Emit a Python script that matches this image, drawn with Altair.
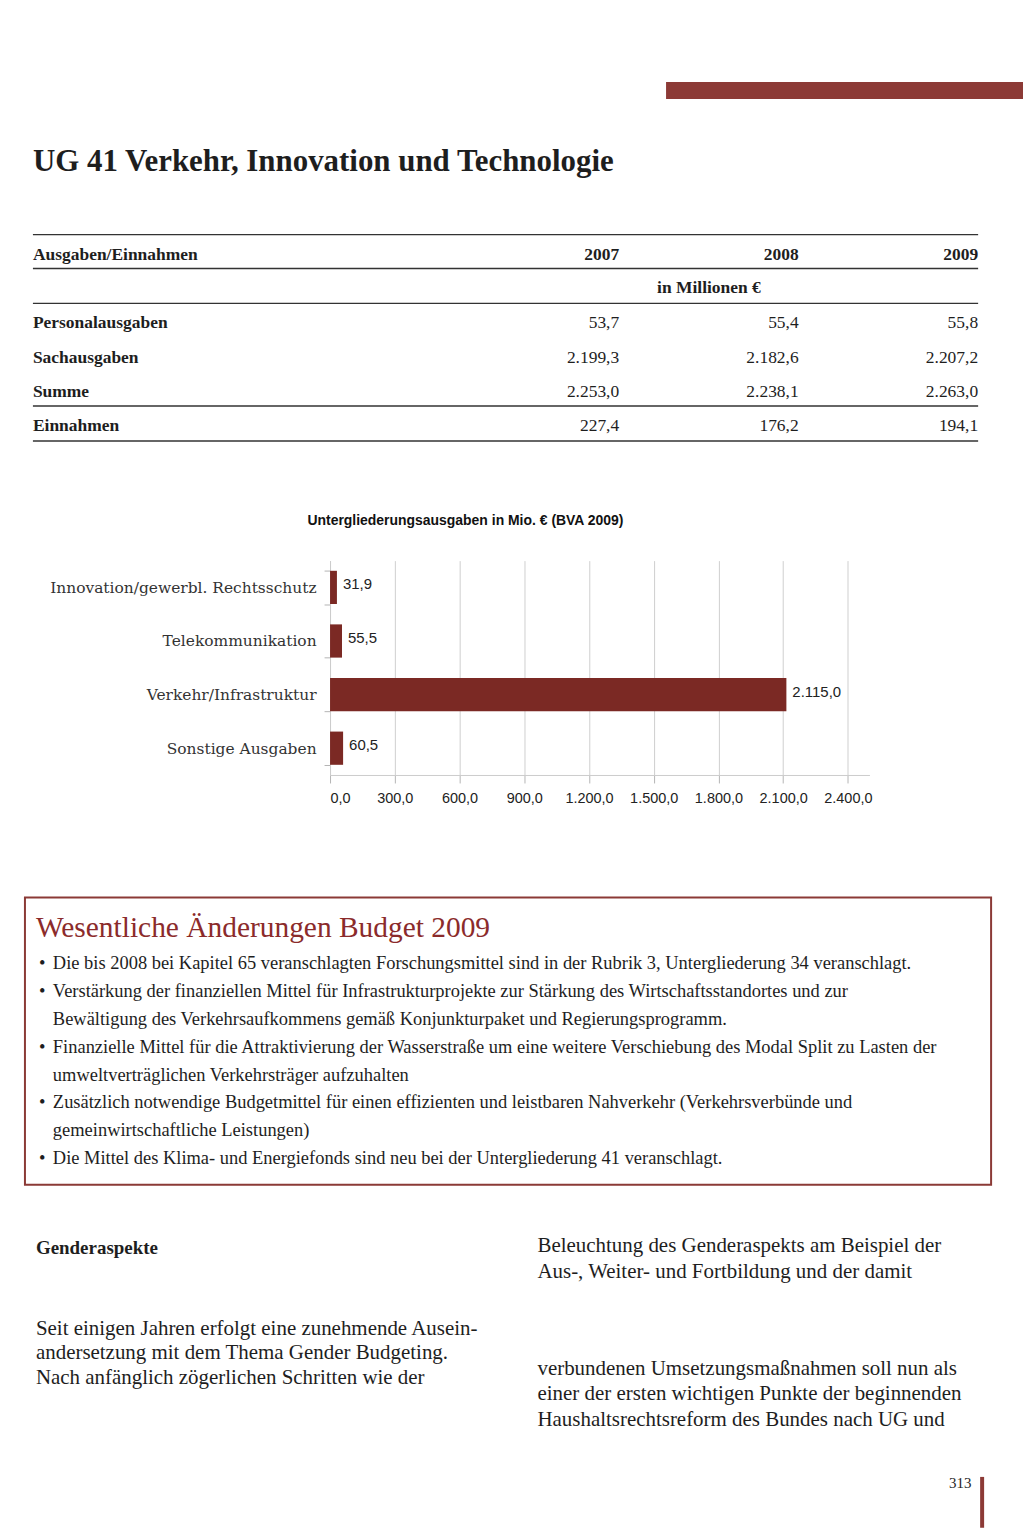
import altair as alt
import pandas as pd

# ---------------- data ----------------
page_title = "UG 41 Verkehr, Innovation und Technologie"
table_head = "Ausgaben/Einnahmen"
years = ["2007", "2008", "2009"]
unit_note = "in Millionen €"
table_rows = ["Personalausgaben", "Sachausgaben", "Summe", "Einnahmen"]
values_2007 = [53.7, 2199.3, 2253.0, 227.4]
values_2008 = [55.4, 2182.6, 2238.1, 176.2]
values_2009 = [55.8, 2207.2, 2263.0, 194.1]

chart_title = "Untergliederungsausgaben in Mio. € (BVA 2009)"
categories = ["Innovation/gewerbl. Rechtsschutz", "Telekommunikation",
              "Verkehr/Infrastruktur", "Sonstige Ausgaben"]
amounts = [31.9, 55.5, 2115.0, 60.5]
x_ticks = [0, 300, 600, 900, 1200, 1500, 1800, 2100, 2400]

box_title = "Wesentliche Änderungen Budget 2009"
box_lines = [
    "Die bis 2008 bei Kapitel 65 veranschlagten Forschungsmittel sind in der Rubrik 3, Untergliederung 34 veranschlagt.",
    "Verstärkung der finanziellen Mittel für Infrastrukturprojekte zur Stärkung des Wirtschaftsstandortes und zur",
    "Bewältigung des Verkehrsaufkommens gemäß Konjunkturpaket und Regierungsprogramm.",
    "Finanzielle Mittel für die Attraktivierung der Wasserstraße um eine weitere Verschiebung des Modal Split zu Lasten der",
    "umweltverträglichen Verkehrsträger aufzuhalten",
    "Zusätzlich notwendige Budgetmittel für einen effizienten und leistbaren Nahverkehr (Verkehrsverbünde und",
    "gemeinwirtschaftliche Leistungen)",
    "Die Mittel des Klima- und Energiefonds sind neu bei der Untergliederung 41 veranschlagt.",
]
box_bullet_flags = [1, 1, 0, 1, 0, 1, 0, 1]
section_title = "Genderaspekte"
left_col_lines = [
    "Seit einigen Jahren erfolgt eine zunehmende Ausein-",
    "andersetzung  mit dem Thema Gender Budgeting.",
    "Nach  anfänglich  zögerlichen  Schritten  wie  der",
]
right_col_lines_a = [
    "Beleuchtung  des  Genderaspekts  am  Beispiel  der",
    "Aus-, Weiter- und Fortbildung und der damit",
]
right_col_lines_b = [
    "verbundenen Umsetzungsmaßnahmen  soll nun als",
    "einer der ersten wichtigen Punkte  der beginnenden",
    "Haushaltsrechtsreform  des  Bundes  nach  UG  und",
]
page_number = "313"

# ---------------- styling ----------------
W = 1015
SERIF = "Liberation Serif"
LABEL_SERIF = "DejaVu Serif"
NARROW = "Liberation Sans Narrow, Arial Narrow, Liberation Sans, sans-serif"
MAROON = "#7b2924"
HEAD_RED = "#8c3a36"
TEXT = "#1e1e1e"
one = pd.DataFrame({"k": [0]})


def de_num(f):
    return (f"{f} >= 1000 ? replace(replace(format({f}, ',.1f'), '.', ','), ',', '.') "
            f": replace(format({f}, '.1f'), '.', ',')")


def text_at(txt, x, y, size, weight="normal", color=TEXT, font=SERIF,
            align="left", baseline="middle", line_height=None):
    kw = dict(text=txt, font=font, fontSize=size, fontWeight=weight, color=color,
              align=align, baseline=baseline)
    if line_height is not None:
        kw["lineBreak"] = "\n"
        kw["lineHeight"] = line_height
    return alt.Chart(one).mark_text(**kw).encode(x=alt.value(x), y=alt.value(y))


def rect_at(x, x2, y, y2, **kw):
    return alt.Chart(one).mark_rect(**kw).encode(
        x=alt.value(x), x2=alt.value(x2), y=alt.value(y), y2=alt.value(y2))


# ---------------- top panel: heading + table ----------------
TOP_H = 505
top_layers = [
    rect_at(657, W, 72, 89, color=HEAD_RED),
    text_at(page_title, 22, 161, 31, weight="bold", baseline="alphabetic"),
]
for yy in [225, 259, 294, 397, 432]:
    top_layers.append(alt.Chart(one).mark_rule(color="#333333", strokeWidth=1.4).encode(
        x=alt.value(22), x2=alt.value(970), y=alt.value(yy)))

tbl = pd.DataFrame({
    "row": table_rows * 3,
    "year": [y for y in years for _ in table_rows],
    "value": values_2007 + values_2008 + values_2009,
})
xs = alt.X("year:N", scale=alt.Scale(type="point", domain=years, range=[610, 970], padding=0), axis=None)
ys = alt.Y("row:N", scale=alt.Scale(type="point", domain=table_rows, range=[314, 417], padding=0), axis=None)

top_layers.append(text_at(table_head, 22, 245, 17.5, weight="bold"))
top_layers.append(alt.Chart(pd.DataFrame({"year": years})).mark_text(
    font=SERIF, fontSize=17.5, fontWeight="bold", color=TEXT, align="right", baseline="middle"
).encode(x=xs, y=alt.value(245), text="year:N"))
top_layers.append(text_at(unit_note, 700, 279, 17.5, weight="bold", align="center"))
top_layers.append(alt.Chart(pd.DataFrame({"row": table_rows})).mark_text(
    font=SERIF, fontSize=17.5, fontWeight="bold", color=TEXT, align="left", baseline="middle"
).encode(x=alt.value(22), y=ys, text="row:N"))
top_layers.append(alt.Chart(tbl).transform_calculate(lbl=de_num("datum.value")).mark_text(
    font=SERIF, fontSize=17.5, color=TEXT, align="right", baseline="middle"
).encode(x=xs, y=ys, text="lbl:N"))

top = alt.layer(*top_layers).properties(width=W, height=TOP_H)

# ---------------- bar chart ----------------
AXIS_EXT = 290
bar_df = pd.DataFrame({"category": categories, "amount": amounts})
base = alt.Chart(bar_df).encode(
    y=alt.Y("category:N", sort=categories,
            scale=alt.Scale(paddingInner=0.38, paddingOuter=0.19),
            axis=alt.Axis(title=None, labelFont=LABEL_SERIF, labelFontSize=15.5,
                          labelColor="#333333", labelPadding=8, tickBand="extent",
                          tickSize=6, tickColor="#b5b5b5", domainColor="#cccccc",
                          grid=False, labelLimit=400,
                          minExtent=AXIS_EXT, maxExtent=AXIS_EXT)),
    x=alt.X("amount:Q", scale=alt.Scale(domain=[0, 2500], nice=False),
            axis=alt.Axis(title=None, values=x_ticks, labelExpr=de_num("datum.value"),
                          labelFont=NARROW, labelFontSize=14.5, labelColor="#222222",
                          labelPadding=9, tickSize=8, tickColor="#b5b5b5",
                          domainColor="#cccccc", grid=True, gridColor="#cfcfcf")),
)
bars = base.mark_bar(color=MAROON)
bar_labels = base.transform_calculate(lbl=de_num("datum.amount")).mark_text(
    align="left", dx=6, dy=-3, font=NARROW, fontSize=15, color="#222222"
).encode(text="lbl:N")
bar_chart = alt.layer(bars, bar_labels).properties(
    width=541, height=215,
    title=alt.TitleParams(chart_title, font=NARROW, fontSize=14, fontWeight="bold",
                          color="#111111", anchor="middle", frame="bounds",
                          baseline="bottom", offset=12, dx=9),
)
spacer = alt.Chart(one).mark_point(opacity=0).encode(
    x=alt.value(0), y=alt.value(0)).properties(width=320 - AXIS_EXT, height=10)
bar_row = alt.hconcat(spacer, bar_chart, spacing=0)

# ---------------- bottom panel: box + text ----------------
BOT0 = 805
BOT_H = 1529 - BOT0


def by(page_y):
    return page_y - BOT0


BODY = 18.5
COL = 21
box_df = pd.DataFrame({"line": list(range(len(box_lines))), "txt": box_lines,
                       "bullet": box_bullet_flags})
line_y = alt.Y("line:Q", scale=alt.Scale(domain=[0, len(box_lines) - 1],
                                         range=[by(963), by(1158)]), axis=None)
bottom_layers = [
    rect_at(14, 983, by(897), by(1185), fillOpacity=0, stroke="#8b3a36", strokeWidth=2),
    text_at(box_title, 25, by(936), 29.5, color="#8b2b2b", baseline="alphabetic"),
    alt.Chart(box_df).transform_filter("datum.bullet == 1").mark_text(
        text="•", font=SERIF, fontSize=BODY, color=TEXT, align="left", baseline="middle"
    ).encode(x=alt.value(28), y=line_y),
    alt.Chart(box_df).mark_text(
        font=SERIF, fontSize=BODY, color=TEXT, align="left", baseline="middle"
    ).encode(x=alt.value(42), y=line_y, text="txt:N"),
    text_at(section_title, 25, by(1248), 19, weight="bold"),
    text_at("\n".join(left_col_lines), 25, by(1329) - 0.49 * COL, COL, baseline="top", line_height=24.5),
    text_at("\n".join(right_col_lines_a), 528, by(1246) - 0.49 * COL, COL, baseline="top", line_height=26),
    text_at("\n".join(right_col_lines_b), 528, by(1369) - 0.49 * COL, COL, baseline="top", line_height=25.5),
    text_at(page_number, 952, by(1484), 15, align="center"),
    rect_at(972, 976, by(1478), BOT_H, color=HEAD_RED),
]
bottom = alt.layer(*bottom_layers).properties(width=W, height=BOT_H)

chart = alt.vconcat(top, bar_row, bottom, spacing=0).properties(
    padding=0, background="white"
).configure_view(stroke=None)

chart.save("out.html", embed_options={"renderer": "svg", "actions": False})
